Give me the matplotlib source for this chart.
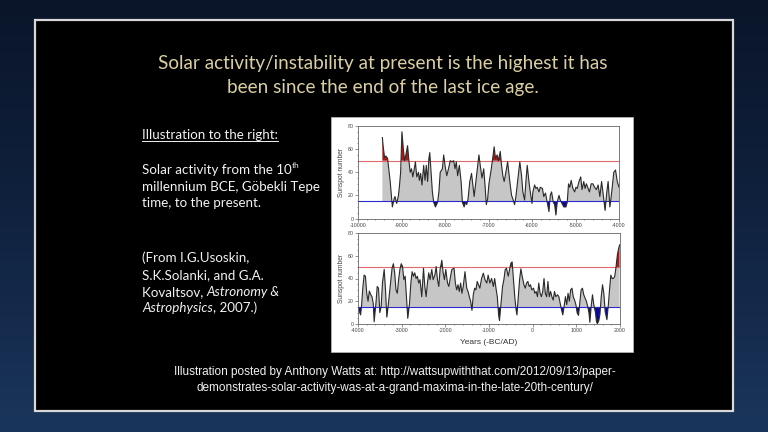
import numpy as np
import matplotlib
matplotlib.use("Agg")
import matplotlib.pyplot as plt
from matplotlib.patches import Rectangle
from matplotlib.lines import Line2D

# ---------------- data ----------------
top_years = [-9440, -9420, -9390, -9360, -9320, -9260, -9220, -9210, -9170, -9150,
             -9110, -9070, -9050, -9020, -8990, -8960, -8930, -8900, -8860, -8830,
             -8800, -8770, -8740, -8710, -8680, -8650, -8610, -8590, -8560, -8530,
             -8490, -8460, -8430, -8400, -8370, -8350, -8320, -8290, -8260, -8220,
             -8170, -8140, -8110, -8060, -8030, -8000, -7960, -7920, -7880, -7840,
             -7800, -7770, -7740, -7710, -7670, -7630, -7600, -7560, -7530, -7500,
             -7470, -7430, -7390, -7360, -7330, -7300, -7250, -7220, -7190, -7150,
             -7110, -7080, -7050, -7020, -6990, -6940, -6900, -6870, -6840, -6800,
             -6770, -6730, -6700, -6670, -6640, -6600, -6560, -6510, -6470, -6440,
             -6400, -6370, -6330, -6280, -6240, -6210, -6170, -6140, -6110, -6070,
             -6040, -6000, -5980, -5940, -5910, -5880, -5840, -5810, -5760, -5730,
             -5690, -5650, -5610, -5580, -5550, -5510, -5480, -5450, -5420, -5380,
             -5350, -5310, -5270, -5220, -5190, -5160, -5130, -5100, -5060, -5020,
             -4990, -4960, -4920, -4880, -4850, -4810, -4780, -4750, -4720, -4680,
             -4640, -4600, -4560, -4520, -4480, -4440, -4400, -4360, -4320, -4280,
             -4250, -4210, -4180, -4150, -4120, -4080, -4040, -4000]
top_sunspots = [70, 62, 53, 54, 52, 32, 14, 10, 17, 19,
                13, 20, 27, 40, 75, 61, 50, 55, 63, 50,
                40, 43, 36, 42, 49, 36, 40, 33, 39, 29,
                46, 33, 46, 32, 52, 57, 40, 23, 14, 10,
                14, 23, 40, 43, 55, 46, 37, 43, 50, 49,
                50, 43, 49, 37, 46, 32, 14, 10, 14, 12,
                17, 32, 39, 29, 19, 29, 46, 55, 46, 35,
                43, 29, 12, 17, 30, 42, 53, 62, 52, 55,
                50, 58, 46, 37, 32, 40, 49, 32, 20, 17,
                12, 19, 32, 49, 37, 23, 16, 32, 46, 32,
                23, 13, 23, 29, 26, 27, 23, 27, 26, 19,
                22, 14, 6, 20, 23, 14, 12, 3, 14, 20,
                16, 13, 10, 10, 14, 30, 27, 33, 26, 23,
                27, 26, 32, 36, 25, 32, 26, 30, 27, 23,
                30, 30, 27, 25, 29, 19, 32, 20, 7, 23,
                32, 10, 19, 29, 40, 42, 32, 27]

bottom_years = [-4000, -3970, -3940, -3920, -3890, -3860, -3830, -3800, -3770, -3740,
                -3710, -3680, -3650, -3630, -3590, -3560, -3530, -3500, -3470, -3440,
                -3400, -3370, -3340, -3310, -3270, -3220, -3190, -3160, -3130, -3100,
                -3070, -3040, -3010, -2980, -2950, -2920, -2890, -2860, -2820, -2790,
                -2760, -2730, -2700, -2670, -2640, -2610, -2580, -2540, -2500, -2470,
                -2440, -2410, -2380, -2350, -2310, -2280, -2240, -2210, -2180, -2150,
                -2120, -2080, -2050, -2020, -1990, -1950, -1920, -1880, -1850, -1800,
                -1770, -1740, -1710, -1680, -1650, -1620, -1590, -1550, -1510, -1480,
                -1450, -1420, -1390, -1360, -1330, -1300, -1270, -1240, -1210, -1170,
                -1130, -1090, -1050, -1020, -980, -940, -900, -870, -840, -810,
                -780, -760, -730, -690, -660, -630, -600, -560, -530, -500,
                -470, -440, -410, -380, -360, -330, -300, -270, -240, -200,
                -170, -140, -110, -80, -50, -20, 20, 50, 80, 110,
                140, 170, 200, 230, 260, 290, 320, 350, 380, 410,
                440, 470, 500, 530, 570, 600, 630, 660, 690, 720,
                750, 780, 810, 840, 870, 900, 930, 960, 990, 1020,
                1050, 1080, 1110, 1140, 1170, 1200, 1230, 1260, 1290, 1310,
                1340, 1370, 1400, 1440, 1460, 1480, 1510, 1540, 1570, 1600,
                1630, 1660, 1700, 1730, 1760, 1790, 1820, 1850, 1880, 1910,
                1940, 1970, 1990]
bottom_sunspots = [14, 11, 8, 15.5, 31.5, 43, 42, 27, 20, 29,
                   26, 24, 18, 2, 18, 33, 31.5, 10, 15.5, 36,
                   48, 30, 6, 15.5, 30, 49, 53, 45, 30, 27,
                   39, 48, 53, 50.5, 39, 42, 24, 5, 18, 36,
                   46, 42, 45, 40, 42, 36, 39, 24, 49, 33,
                   24, 36, 45, 39, 48, 39, 43, 50.5, 39, 33,
                   48, 56, 45, 39, 48, 36, 33, 42, 48, 49,
                   36, 30, 34.5, 28.6, 36, 27, 33, 46, 31.5, 28.6,
                   24, 20, 12, 25.7, 31.5, 30, 37.4, 34.5, 31.5, 40,
                   44.7, 38.8, 36, 43, 36, 40, 33, 40, 31.5, 24,
                   8, 3, 15.5, 33, 38.8, 47.6, 49, 42, 47.6, 53.4,
                   54.6, 38.8, 24, 12.6, 8, 24, 38.8, 48.5, 42, 34.5,
                   31.5, 36, 37.4, 33, 34.5, 30, 31.5, 27, 28.6, 24,
                   36, 27, 24, 28.6, 40, 27, 24, 37.4, 24, 28.6,
                   24, 21, 28.6, 24, 25.7, 24, 18.4, 12.6, 8, 15.5,
                   24, 17, 27, 20, 30, 31.5, 24, 21, 17, 9.6,
                   7.6, 18.4, 30, 31.5, 25.7, 22.8, 20, 15.5, 9.6, 1.5,
                   15.5, 25.7, 17, 9.6, 2.3, 0.3, 2.3, 8.2, 24, 34.5,
                   27, 11, 3.8, 15.5, 30, 43, 40, 40, 42, 50.5,
                   60.7, 66.6, 69.5]

high_level = 50
low_level = 15
y_ticks = [0, 20, 40, 60, 80]
top_xticks = [-10000, -9000, -8000, -7000, -6000, -5000, -4000]
bottom_xticks = [-4000, -3000, -2000, -1000, 0, 1000, 2000]

title_lines = ["Solar activity/instability at present is the highest it has",
               "been since the end of the last ice age."]
footer_lines = ["Illustration posted by Anthony Watts at: http://wattsupwiththat.com/2012/09/13/paper-",
                "demonstrates-solar-activity-was-at-a-grand-maxima-in-the-late-20th-century/"]

# ---------------- figure ----------------
W, H = 768, 432
fig = plt.figure(figsize=(W / 100, H / 100), dpi=100)
renderer = fig.canvas.get_renderer()


def fx(px):
    return px / W


def fy(py):
    return 1 - py / H


# background gradient
bg = fig.add_axes([0, 0, 1, 1])
bg.set_axis_off()
grad = np.linspace(0, 1, 200)[:, None] * np.ones((1, 10))
bg.imshow(grad, aspect='auto', extent=[0, 1, 0, 1], origin='upper',
          cmap=matplotlib.colors.LinearSegmentedColormap.from_list(
              'bgc', ['#0a1529', '#10223f', '#1a355c']))
bg.set_xlim(0, 1)
bg.set_ylim(0, 1)

# black slide box with light frame
fig.patches.append(Rectangle((fx(35), fy(411)), fx(733) - fx(35), fy(20) - fy(411),
                             transform=fig.transFigure, facecolor='black',
                             edgecolor='#d8d8d8', linewidth=1.6, zorder=1))

# title
title_color = '#d9cfa2'
fig.text(fx(383), fy(63), title_lines[0], ha='center', va='center',
         family='Lato', fontsize=13.6, color=title_color, zorder=3)
fig.text(fx(383), fy(88), title_lines[1], ha='center', va='center',
         family='Lato', fontsize=13.6, color=title_color, zorder=3)

# left text
tc = '#f2f2f2'
fs = 9.6


def segs(py, parts):
    """parts: list of (text, style, size_factor, dy_px)"""
    x = fx(142)
    last = None
    for s, style, fac, dy in parts:
        t = fig.text(x, fy(py + dy), s, ha='left', va='center', family='Lato',
                     style=style, fontsize=fs * fac, color=tc, zorder=3)
        bb = t.get_window_extent(renderer=renderer)
        x = bb.x1 / W
        last = t
    return last


t_ill = segs(135, [("Illustration to the right:", 'normal', 1, 0)])
segs(170, [("Solar activity from the 10", 'normal', 1, 0), ("th", 'normal', 0.62, -4)])
segs(187, [("millennium BCE, Göbekli Tepe", 'normal', 1, 0)])
segs(203, [("time, to the present.", 'normal', 1, 0)])
segs(258, [("(From I.G.Usoskin,", 'normal', 1, 0)])
segs(275, [("S.K.Solanki, and G.A.", 'normal', 1, 0)])
segs(292, [("Kovaltsov, ", 'normal', 1, 0), ("Astronomy &", 'italic', 1, 0)])
segs(308, [("Astrophysics", 'italic', 1, 0), (", 2007.)", 'normal', 1, 0)])

# footer
for py, s in zip([372, 388], footer_lines):
    fig.text(fx(395), fy(py), s, ha='center', va='center', family='Liberation Sans',
             fontsize=8.45, color='#f0f0f0', zorder=3)

# white chart panel
fig.patches.append(Rectangle((fx(331), fy(352)), fx(633) - fx(331), fy(117) - fy(352),
                             transform=fig.transFigure, facecolor='white',
                             edgecolor='#bbbbbb', linewidth=0.5, zorder=2))

gray_fill = '#c6c6c6'
red_fill = '#b01818'
blue_fill = '#0a0aa0'
red_line = '#e06a6a'
blue_line = '#2a2ad0'


def panel(rect, years, spots, xticks, xlim, show_xlabel):
    ax = fig.add_axes(rect, zorder=4)
    x = np.array(years, dtype=float)
    y = np.array(spots, dtype=float)
    ax.fill_between(x, low_level, np.minimum(y, high_level), where=y >= low_level,
                    interpolate=True, color=gray_fill, linewidth=0)
    ax.fill_between(x, high_level, y, where=y >= high_level, interpolate=True,
                    color=red_fill, linewidth=0)
    ax.fill_between(x, y, low_level, where=y <= low_level, interpolate=True,
                    color=blue_fill, linewidth=0)
    ax.axhline(high_level, color=red_line, linewidth=0.8)
    ax.axhline(low_level, color=blue_line, linewidth=0.8)
    ax.plot(x, y, color='#2a2a2a', linewidth=0.8)
    ax.set_xlim(*xlim)
    ax.set_ylim(0, 80)
    ax.set_xticks(xticks)
    ax.set_xticklabels([str(v) for v in xticks])
    ax.set_yticks(y_ticks)
    ax.set_xticks(np.arange(xlim[0], xlim[1] + 1, 200), minor=True)
    ax.set_yticks(np.arange(0, 81, 5), minor=True)
    ax.tick_params(which='both', direction='out', labelsize=3.8, colors='#444444',
                   width=0.4)
    ax.tick_params(which='major', length=2.0, pad=1.2)
    ax.tick_params(which='minor', length=1.0)
    for t in ax.get_xticklabels() + ax.get_yticklabels():
        t.set_family('Liberation Sans')
    for sp in ax.spines.values():
        sp.set_color('#666666')
        sp.set_linewidth(0.6)
    ax.set_ylabel('Sunspot number', fontsize=4.8, family='Liberation Sans',
                  color='#444444', labelpad=2)
    if show_xlabel:
        ax.set_xlabel('Years (-BC/AD)', fontsize=6.0, family='Liberation Sans',
                      color='#333333', labelpad=4)
    ax.set_facecolor('white')
    return ax


panel([fx(358), fy(218.5), fx(619) - fx(358), fy(126) - fy(218.5)],
      top_years, top_sunspots, top_xticks, (-10000, -4000), False)
panel([fx(358), fy(324), fx(620) - fx(358), fy(233) - fy(324)],
      bottom_years, bottom_sunspots, bottom_xticks, (-4000, 2000), True)

# underline of the left heading
bb = t_ill.get_window_extent(renderer=renderer)
fig.lines.append(Line2D([bb.x0 / W, bb.x1 / W], [(bb.y0 + 0.5) / H, (bb.y0 + 0.5) / H],
                        transform=fig.transFigure, color=tc, linewidth=0.7, zorder=3))

fig.savefig('out.png', dpi=100)
